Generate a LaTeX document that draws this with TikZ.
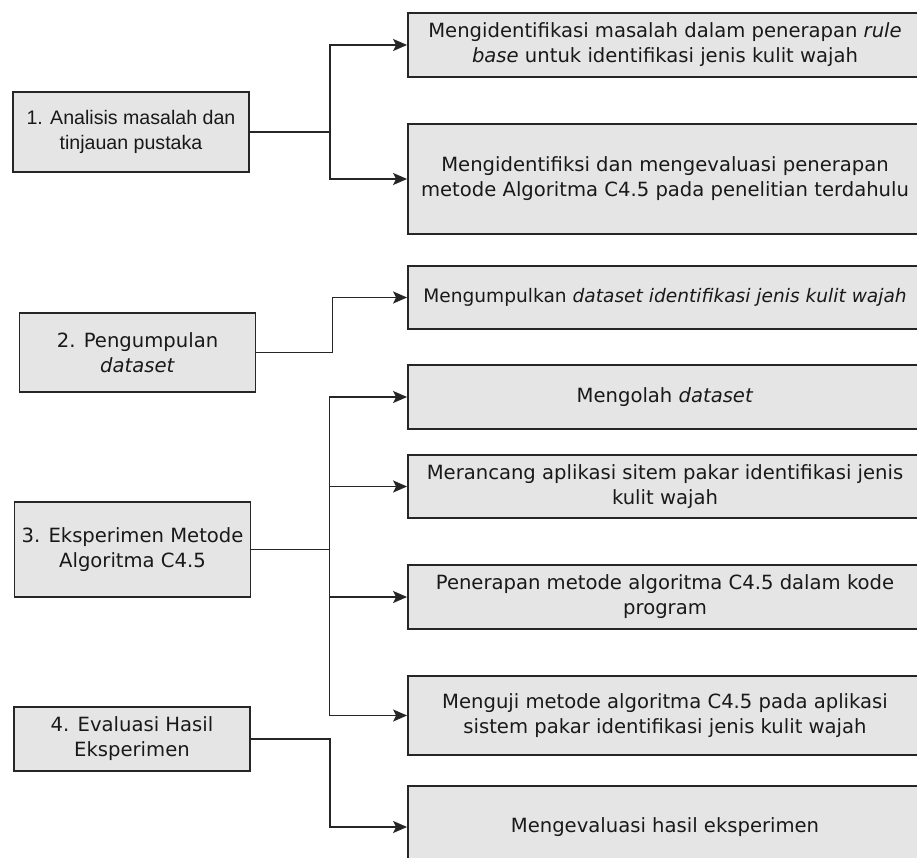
\documentclass[tikz,border=0pt]{standalone}
\usepackage{fontspec}
\setmainfont{DejaVu Sans}
\newfontfamily\arialfont{Liberation Sans}
\usetikzlibrary{arrows.meta}

\begin{document}
\begin{tikzpicture}[x=1pt,y=-1pt,
  box/.style={draw=black!85,fill=gray!20,line width=1.8pt,align=center,
    inner sep=0pt,text=black!90,font=\fontsize{19.6}{25}\selectfont},
  stage/.style={box,minimum width=236pt},
  task/.style={box,minimum width=514pt},
  link/.style={-{Stealth[length=14pt,width=12pt,inset=3pt]},line width=1.7pt,draw=black!85}]
  \useasboundingbox (0,0) rectangle (917,858);
  \clip (0,0) rectangle (917,858);
  % tahapan
  \node[stage,minimum height=80pt] (L1) at (131,132) {\arialfont 1. Analisis masalah dan\\\arialfont tinjauan pustaka};
  \node[stage,minimum height=79pt] (L2) at (137.5,352.5) {2. Pengumpulan\\\textit{dataset}};
  \node[stage,minimum height=95pt] (L3) at (132.5,549.5) {3. Eksperimen Metode\\Algoritma C4.5};
  \node[stage,minimum height=64pt] (L4) at (132,739) {4. Evaluasi Hasil\\Eksperimen};
  % kegiatan
  \node[task,minimum height=64pt]  (K1) at (665,45)    {Mengidentifikasi masalah dalam penerapan \textit{rule}\\\textit{base} untuk identifikasi jenis kulit wajah};
  \node[task,minimum height=110pt] (K2) at (665,179)   {Mengidentifiksi dan mengevaluasi penerapan\\metode Algoritma C4.5 pada penelitian terdahulu};
  \node[task,minimum height=63pt,font=\fontsize{18.6}{25}\selectfont] (K3) at (665,297.5) {Mengumpulkan \textit{dataset identifikasi jenis kulit wajah}};
  \node[task,minimum height=64pt]  (K4) at (665,397)   {Mengolah \textit{dataset}};
  \node[task,minimum height=63pt]  (K5) at (665,486.5) {Merancang aplikasi sitem pakar identifikasi jenis\\kulit wajah};
  \node[task,minimum height=64pt]  (K6) at (665,597)   {Penerapan metode algoritma C4.5 dalam kode\\program};
  \node[task,minimum height=79pt]  (K7) at (665,715.5) {Menguji metode algoritma C4.5 pada aplikasi\\sistem pakar identifikasi jenis kulit wajah};
  \node[task,minimum height=82pt]  (K8) at (665,827)   {Mengevaluasi hasil eksperimen};
  % panah
  \draw[link] (L1.east) -- ++(80,0) |- (K1.west);
  \draw[link] (L1.east) -- ++(80,0) |- (K2.west);
  \draw[link] (L2.east) -- ++(76,0) |- (K3.west);
  \draw[link] (L3.east) -- ++(78,0) |- (K4.west);
  \draw[link] (L3.east) -- ++(78,0) |- (K5.west);
  \draw[link] (L3.east) -- ++(78,0) |- (K6.west);
  \draw[link] (L3.east) -- ++(78,0) |- (K7.west);
  \draw[link] (L4.east) -- ++(79,0) |- (K8.west);
\end{tikzpicture}
\end{document}
